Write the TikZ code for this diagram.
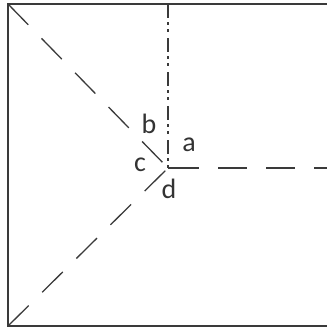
\documentclass[tikz,border=0pt]{standalone}
\usepackage{fontspec}
\setmainfont{Carlito}
\definecolor{ink}{HTML}{3A3A3A}
\definecolor{txt}{HTML}{333333}
\begin{document}
\begin{tikzpicture}[x=1pt,y=-1pt,
  frame/.style={draw=ink,line width=1.8pt},
  dashln/.style={draw=ink,line width=1.3pt,dash pattern=on 29pt off 19pt},
  dotln/.style={draw=ink,line width=1.3pt,dash pattern=on 14pt off 4pt on 3pt off 4pt on 3pt off 6pt},
  solidln/.style={draw=ink,line width=1.3pt},
  lbl/.style={inner sep=0pt,text=txt,font=\fontsize{28}{32}\selectfont}]
\useasboundingbox (0,0) rectangle (327,330);
\coordinate (tl) at (8,4);
\coordinate (bl) at (8,326);
\coordinate (tr) at (335,4);
\coordinate (br) at (335,326);
\coordinate (C) at (168,168);
\coordinate (T) at (168,4);
\coordinate (R) at (330,168);
\coordinate (Rs) at (196,168);
\draw[frame] (tr) -- (tl) -- (bl) -- (br);
\draw[dotln] (T) -- (C);
\draw[solidln] (C) -- (Rs);
\draw[dashln,dash phase=-22pt] (Rs) -- (R);
\draw[dashln] (tl) -- (C);
\draw[dashln] (bl) -- (C);
\node[lbl] (a) at (189,145) {a};
\node[lbl] (b) at (149,124) {b};
\node[lbl] (c) at (140,165) {c};
\node[lbl] (d) at (169,189) {d};
\end{tikzpicture}
\end{document}
